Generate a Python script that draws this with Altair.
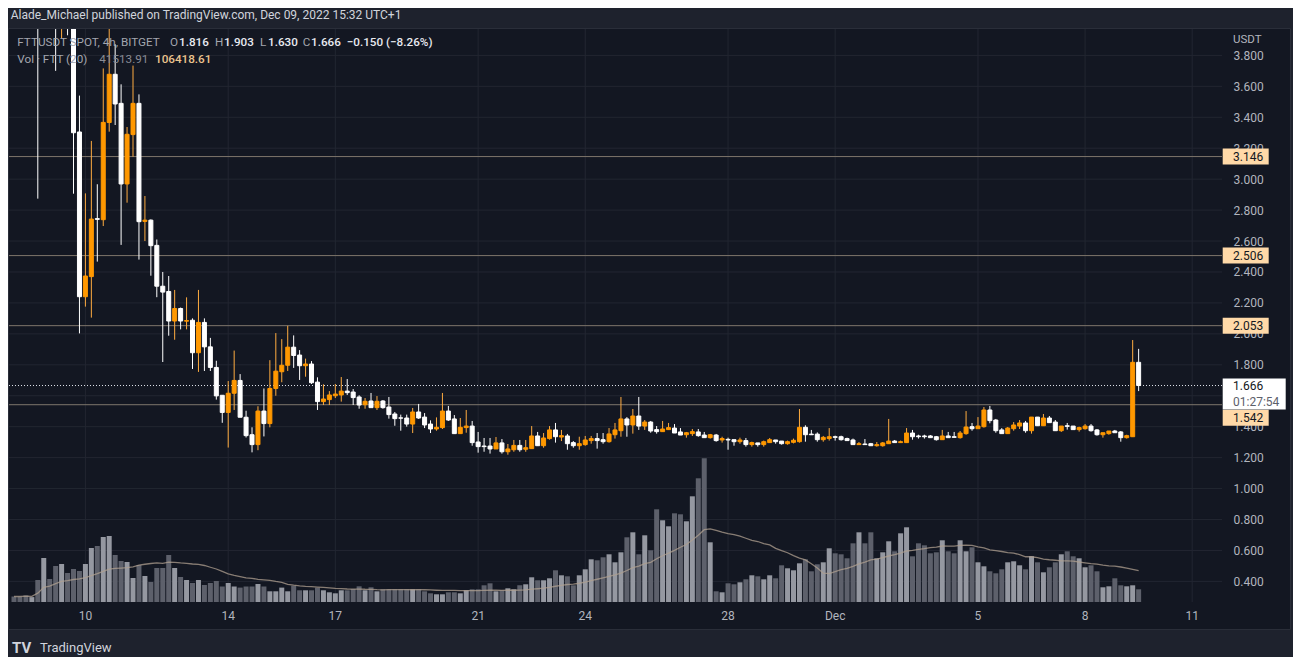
import altair as alt
import pandas as pd

# ---------------- data (4h candles, index 0 = Nov 10 01:00 UTC+1) ----------------
bar_index = list(range(-12, 178))

open_ = [
    5.10, 4.75, 4.45, 4.30, 4.40, 4.15, 4.30, 4.20, 4.05, 4.25,
    4.10, 3.305, 2.240, 2.370, 2.745, 2.738, 3.366, 3.678, 3.490, 2.969,
    3.288, 3.490, 2.727, 2.735, 2.572, 2.308, 2.274, 2.083, 2.164, 2.082,
    2.088, 1.878, 2.074, 1.916, 1.783, 1.603, 1.492, 1.616, 1.699, 1.461,
    1.348, 1.284, 1.501, 1.420, 1.647, 1.755, 1.797, 1.914, 1.863, 1.794,
    1.805, 1.688, 1.562, 1.575, 1.600, 1.605, 1.630, 1.624, 1.592, 1.542,
    1.566, 1.523, 1.566, 1.527, 1.482, 1.457, 1.456, 1.417, 1.495, 1.462,
    1.417, 1.385, 1.394, 1.501, 1.450, 1.355, 1.394, 1.404, 1.301, 1.275,
    1.275, 1.256, 1.295, 1.238, 1.251, 1.279, 1.254, 1.258, 1.340, 1.277,
    1.323, 1.379, 1.333, 1.340, 1.297, 1.277, 1.284, 1.310, 1.323, 1.316,
    1.303, 1.348, 1.374, 1.450, 1.411, 1.469, 1.404, 1.430, 1.381, 1.368,
    1.381, 1.391, 1.366, 1.348, 1.355, 1.366, 1.346, 1.329, 1.346, 1.314,
    1.318, 1.316, 1.303, 1.310, 1.284, 1.295, 1.284, 1.297, 1.314, 1.307,
    1.290, 1.299, 1.303, 1.396, 1.352, 1.352, 1.316, 1.323, 1.335, 1.335,
    1.323, 1.314, 1.284, 1.288, 1.290, 1.277, 1.277, 1.290, 1.307, 1.297,
    1.297, 1.359, 1.340, 1.340, 1.340, 1.335, 1.316, 1.340, 1.335, 1.329,
    1.355, 1.400, 1.387, 1.400, 1.508, 1.443, 1.379, 1.355, 1.387, 1.404,
    1.424, 1.374, 1.462, 1.406, 1.456, 1.430, 1.374, 1.406, 1.404, 1.381,
    1.387, 1.404, 1.379, 1.348, 1.355, 1.372, 1.366, 1.329, 1.335, 1.816,
]
high = [
    5.40, 5.00, 4.70, 4.60, 4.55, 4.50, 4.60, 4.40, 4.40, 4.45,
    4.30, 3.54, 2.908, 3.247, 2.967, 3.716, 4.05, 3.872, 3.613, 3.337,
    3.734, 3.548, 2.891, 2.740, 2.61, 2.40, 2.374, 2.284, 2.17, 2.236,
    2.10, 2.284, 2.10, 1.974, 1.826, 1.603, 1.695, 1.892, 1.74, 1.503,
    1.396, 1.532, 1.647, 1.83, 2.005, 1.966, 2.052, 1.99, 1.895, 1.840,
    1.824, 1.719, 1.674, 1.630, 1.676, 1.721, 1.708, 1.643, 1.603, 1.585,
    1.618, 1.598, 1.572, 1.592, 1.495, 1.478, 1.478, 1.521, 1.547, 1.488,
    1.441, 1.460, 1.618, 1.534, 1.475, 1.456, 1.508, 1.437, 1.366, 1.327,
    1.327, 1.333, 1.320, 1.288, 1.314, 1.314, 1.314, 1.404, 1.366, 1.359,
    1.404, 1.424, 1.379, 1.353, 1.307, 1.335, 1.340, 1.340, 1.359, 1.359,
    1.391, 1.424, 1.592, 1.462, 1.514, 1.592, 1.443, 1.437, 1.404, 1.437,
    1.424, 1.417, 1.391, 1.366, 1.385, 1.385, 1.366, 1.353, 1.353, 1.335,
    1.329, 1.316, 1.329, 1.327, 1.303, 1.295, 1.310, 1.327, 1.314, 1.307,
    1.310, 1.323, 1.514, 1.409, 1.379, 1.363, 1.340, 1.391, 1.342, 1.342,
    1.329, 1.323, 1.301, 1.320, 1.295, 1.301, 1.301, 1.450, 1.314, 1.310,
    1.391, 1.379, 1.348, 1.348, 1.346, 1.340, 1.379, 1.366, 1.366, 1.372,
    1.501, 1.424, 1.462, 1.527, 1.534, 1.450, 1.391, 1.398, 1.430, 1.443,
    1.437, 1.462, 1.462, 1.482, 1.469, 1.443, 1.404, 1.424, 1.404, 1.400,
    1.417, 1.417, 1.385, 1.361, 1.372, 1.379, 1.372, 1.348, 1.960, 1.903,
]
low = [
    4.60, 4.30, 4.10, 4.05, 2.874, 4.02, 4.05, 3.70, 3.91, 3.93,
    2.906, 2.003, 2.176, 2.105, 2.467, 2.697, 3.307, 3.35, 2.575, 2.848,
    3.145, 2.48, 2.60, 2.376, 2.237, 1.818, 1.988, 1.962, 2.029, 2.029,
    1.773, 1.754, 1.76, 1.76, 1.575, 1.425, 1.265, 1.508, 1.461, 1.33,
    1.234, 1.248, 1.337, 1.396, 1.60, 1.687, 1.76, 1.78, 1.702, 1.723,
    1.676, 1.508, 1.540, 1.540, 1.585, 1.562, 1.605, 1.540, 1.516, 1.516,
    1.523, 1.508, 1.516, 1.452, 1.406, 1.374, 1.400, 1.359, 1.450, 1.391,
    1.359, 1.374, 1.385, 1.437, 1.355, 1.355, 1.361, 1.277, 1.232, 1.238,
    1.226, 1.256, 1.226, 1.219, 1.238, 1.238, 1.238, 1.258, 1.277, 1.264,
    1.316, 1.297, 1.307, 1.251, 1.264, 1.251, 1.277, 1.290, 1.258, 1.290,
    1.297, 1.323, 1.335, 1.335, 1.355, 1.379, 1.379, 1.361, 1.355, 1.368,
    1.379, 1.359, 1.346, 1.329, 1.340, 1.335, 1.329, 1.323, 1.303, 1.297,
    1.251, 1.277, 1.290, 1.271, 1.271, 1.271, 1.271, 1.297, 1.290, 1.284,
    1.284, 1.292, 1.297, 1.303, 1.346, 1.303, 1.303, 1.310, 1.310, 1.310,
    1.310, 1.284, 1.284, 1.284, 1.277, 1.271, 1.271, 1.290, 1.297, 1.297,
    1.297, 1.316, 1.323, 1.323, 1.329, 1.310, 1.316, 1.329, 1.331, 1.323,
    1.348, 1.374, 1.387, 1.394, 1.422, 1.361, 1.355, 1.355, 1.374, 1.385,
    1.361, 1.355, 1.406, 1.406, 1.426, 1.374, 1.366, 1.381, 1.381, 1.368,
    1.381, 1.368, 1.342, 1.329, 1.348, 1.361, 1.303, 1.323, 1.335, 1.630,
]
close = [
    4.75, 4.45, 4.30, 4.40, 4.15, 4.30, 4.20, 4.05, 4.25, 4.10,
    3.30, 2.240, 2.374, 2.742, 2.740, 3.367, 3.678, 3.486, 2.969, 3.290,
    3.490, 2.725, 2.735, 2.570, 2.308, 2.270, 2.083, 2.164, 2.083, 2.086,
    1.878, 2.074, 1.916, 1.783, 1.599, 1.492, 1.616, 1.699, 1.461, 1.342,
    1.284, 1.501, 1.420, 1.647, 1.759, 1.797, 1.914, 1.860, 1.794, 1.805,
    1.684, 1.562, 1.579, 1.605, 1.611, 1.630, 1.620, 1.588, 1.540, 1.564,
    1.523, 1.564, 1.523, 1.478, 1.452, 1.455, 1.417, 1.495, 1.456, 1.411,
    1.385, 1.396, 1.501, 1.443, 1.355, 1.396, 1.404, 1.297, 1.271, 1.271,
    1.256, 1.295, 1.238, 1.256, 1.279, 1.251, 1.264, 1.340, 1.277, 1.327,
    1.379, 1.335, 1.342, 1.290, 1.277, 1.290, 1.314, 1.323, 1.310, 1.303,
    1.353, 1.379, 1.450, 1.411, 1.469, 1.404, 1.430, 1.372, 1.368, 1.385,
    1.394, 1.359, 1.346, 1.361, 1.368, 1.342, 1.329, 1.348, 1.310, 1.323,
    1.314, 1.303, 1.314, 1.284, 1.297, 1.284, 1.303, 1.316, 1.303, 1.290,
    1.303, 1.312, 1.396, 1.348, 1.348, 1.316, 1.331, 1.335, 1.331, 1.316,
    1.310, 1.284, 1.290, 1.284, 1.277, 1.284, 1.295, 1.307, 1.297, 1.303,
    1.359, 1.335, 1.335, 1.335, 1.329, 1.316, 1.340, 1.329, 1.331, 1.359,
    1.398, 1.387, 1.404, 1.508, 1.439, 1.374, 1.355, 1.391, 1.411, 1.424,
    1.374, 1.462, 1.406, 1.456, 1.426, 1.374, 1.404, 1.402, 1.381, 1.394,
    1.404, 1.374, 1.348, 1.361, 1.372, 1.361, 1.329, 1.342, 1.816, 1.666,
]
volume_k = [
    18.0, 18.0, 21.6, 16.0, 71.9, 143.9, 75.2, 117.7, 124.3, 94.8,
    107.9, 101.4, 124.3, 176.6, 183.1, 212.6, 215.8, 153.7, 134.1, 130.8,
    78.5, 121.0, 85.0, 65.4, 111.2, 111.2, 153.7, 111.2, 81.8, 71.9,
    62.1, 71.9, 55.6, 62.1, 68.7, 50.7, 62.1, 50.7, 47.1, 50.7,
    50.7, 58.9, 50.7, 35.0, 35.0, 47.1, 35.0, 53.3, 38.3, 38.3,
    38.3, 46.8, 38.3, 31.7, 28.4, 38.3, 38.3, 42.5, 51.3, 38.3,
    48.1, 35.0, 41.5, 41.5, 41.5, 41.5, 41.5, 41.5, 41.5, 35.0,
    28.4, 25.2, 25.2, 31.7, 31.7, 28.4, 38.3, 41.5, 41.5, 54.6,
    61.1, 35.0, 38.3, 44.8, 41.5, 54.6, 57.9, 80.8, 71.0, 71.0,
    77.5, 103.7, 87.3, 84.0, 54.6, 87.3, 106.9, 139.6, 136.4, 146.2,
    156.0, 129.8, 162.5, 211.6, 227.9, 156.0, 218.1, 169.1, 303.1, 267.2,
    247.5, 290.0, 286.8, 263.9, 345.6, 404.5, 469.9, 195.2, 35.0, 31.7,
    61.1, 57.9, 64.4, 74.2, 87.3, 84.0, 74.2, 87.3, 77.5, 120.0,
    110.2, 103.7, 126.5, 139.6, 100.4, 123.3, 129.8, 175.6, 159.2, 156.0,
    142.9, 191.9, 227.9, 191.9, 227.9, 142.9, 162.5, 198.5, 165.8, 224.6,
    244.3, 149.4, 191.9, 185.4, 159.2, 162.5, 201.8, 165.8, 159.2, 201.8,
    165.8, 178.9, 129.8, 116.7, 100.4, 93.8, 106.9, 129.8, 133.1, 120.0,
    106.9, 149.4, 129.8, 97.1, 113.5, 129.8, 156.0, 165.8, 149.4, 142.9,
    113.5, 120.0, 100.4, 48.1, 51.3, 77.5, 54.6, 51.3, 54.6, 41.5,
]

day_tick_index = [0, 24, 42, 66, 84, 108, 126, 150, 168, 186]
day_tick_label = ["10", "14", "17", "21", "24", "28", "Dec", "5", "8", "11"]
price_ticks = [0.4, 0.6, 0.8, 1.0, 1.2, 1.4, 1.6, 1.8, 2.0, 2.2, 2.4, 2.6,
               2.8, 3.0, 3.2, 3.4, 3.6, 3.8]
level_prices = [3.146, 2.506, 2.053]
level_price_low = [1.542]
last_price = [1.666]
countdown = "01:27:54"

df = pd.DataFrame({"idx": bar_index, "open": open_, "high": high, "low": low,
                   "close": close, "vol": volume_k})
df_ticks = pd.DataFrame({"price": price_ticks})
df_days = pd.DataFrame({"idx": day_tick_index, "label": day_tick_label})
df_levels = pd.DataFrame({"price": level_prices})
df_level_low = pd.DataFrame({"price": level_price_low})
df_last = pd.DataFrame({"price": last_price})
one = pd.DataFrame({"a": [0]})

# ---------------- styling ----------------
W, H = 1213, 574
FONT = "Roboto"
BG_OUT = "#1e222d"
BG_PANEL = "#131722"
GRID = "#222631"
TXT = "#b2b5be"
ORANGE = "#ff9800"
WHITE = "#ffffff"
VOL_UP = "#9598a1"
VOL_DN = "#5d606b"
LEVEL = "#7e766b"
PEACH = "#ffd9a8"

X_SCALE = alt.Scale(domain=[-12, 190.17], nice=False, zero=False)
P_SCALE = alt.Scale(domain=[0.2667, 3.9771], nice=False, zero=False)
V_SCALE = alt.Scale(domain=[0, 1877], nice=False, zero=True)

xq = alt.X("idx:Q", scale=X_SCALE, axis=None)


def band(x1, x2, y1, y2, fill=BG_OUT):
    return alt.Chart(one).mark_rect(fill=fill).encode(
        x=alt.value(x1), x2=alt.value(x2), y=alt.value(y1), y2=alt.value(y2))


outer = [
    band(-2, 1285, -21, 0),        # publishing header strip
    band(-2, 1285, 602, 630),      # footer strip
    band(1281.5, 1285, -21, 630),  # right edge strip
]
frame = alt.Chart(one).mark_rect(fill=None, fillOpacity=0, stroke="#2a2e39", strokeWidth=1).encode(
    x=alt.value(-0.5), x2=alt.value(1281.5), y=alt.value(0.5), y2=alt.value(601.5))

hgrid = alt.Chart(df_ticks).mark_rule(color=GRID, strokeWidth=1).encode(
    y=alt.Y("price:Q", scale=P_SCALE,
            axis=alt.Axis(orient="right", values=price_ticks, format=".3f", title=None,
                          domain=False, ticks=False, tickSize=0, grid=False,
                          labelPadding=11, labelColor=TXT, labelFont=FONT,
                          labelFontSize=12, labelOverlap=False)))

vgrid = alt.Chart(df_days).mark_rule(color=GRID, strokeWidth=1).encode(x=xq)

# date labels along the time scale
xlabels = alt.Chart(df_days).mark_text(baseline="middle", align="center", font=FONT,
                                       fontSize=12, color=TXT).encode(
    x=xq, y=alt.value(587.5), text="label:N")

vol_bars = alt.Chart(df).transform_calculate(
    vc="datum.close >= datum.open ? '%s' : '%s'" % (VOL_UP, VOL_DN)
).mark_bar(size=5, clip=True).encode(
    x=xq,
    y=alt.Y("vol:Q", scale=V_SCALE, axis=None),
    color=alt.Color("vc:N", scale=None, legend=None))

ma_line = alt.Chart(df).transform_window(
    ma="mean(vol)", frame=[-19, 0], sort=[alt.SortField("idx")]
).mark_line(color="#b0a090", strokeWidth=1.3, opacity=0.75, clip=True).encode(
    x=xq, y=alt.Y("ma:Q", scale=V_SCALE, axis=None))

vol_layer = alt.layer(vol_bars, ma_line)

py = lambda f: alt.Y(f, scale=P_SCALE, axis=None)

levels = alt.Chart(df_levels).mark_rule(color=LEVEL, strokeWidth=1).encode(y=py("price:Q"))
levels_low = alt.Chart(df_level_low).mark_rule(color=LEVEL, strokeWidth=1).encode(y=py("price:Q"))
last_line = alt.Chart(df_last).mark_rule(color="#e0e3eb", strokeWidth=1, strokeDash=[1, 2]).encode(
    y=py("price:Q"))

cc = "datum.close >= datum.open ? '%s' : '%s'"
wicks = alt.Chart(df).transform_calculate(
    wc=cc % ("#ffac40", WHITE)
).mark_rule(strokeWidth=1, clip=True).encode(
    x=xq, y=py("low:Q"), y2="high:Q", color=alt.Color("wc:N", scale=None, legend=None))

bodies = alt.Chart(df).transform_calculate(
    bc=cc % (ORANGE, WHITE)
).mark_bar(size=4, strokeWidth=1, clip=True).encode(
    x=xq, y=py("open:Q"), y2="close:Q",
    color=alt.Color("bc:N", scale=None, legend=None),
    stroke=alt.Stroke("bc:N", scale=None, legend=None))

# right-hand price labels
lvl_box = alt.Chart(df_levels).mark_rect(fill=PEACH, yOffset=-8, y2Offset=8).encode(
    x=alt.value(1213.7), x2=alt.value(1259.7), y=py("price:Q"), y2="price:Q")
lvl_txt = alt.Chart(df_levels).mark_text(align="left", baseline="middle", font=FONT,
                                         fontSize=12, color="#131722").encode(
    x=alt.value(1224), y=py("price:Q"), text=alt.Text("price:Q", format=".3f"))
low_box = alt.Chart(df_level_low).mark_rect(fill=PEACH, yOffset=5, y2Offset=21).encode(
    x=alt.value(1213.7), x2=alt.value(1259.7), y=py("price:Q"), y2="price:Q")
low_txt = alt.Chart(df_level_low).mark_text(align="left", baseline="middle", font=FONT,
                                            fontSize=12, color="#131722", dy=13).encode(
    x=alt.value(1224), y=py("price:Q"), text=alt.Text("price:Q", format=".3f"))
last_box = alt.Chart(df_last).mark_rect(fill=WHITE, yOffset=-7, y2Offset=24).encode(
    x=alt.value(1213.7), x2=alt.value(1276.7), y=py("price:Q"), y2="price:Q")
last_txt = alt.Chart(df_last).mark_text(align="left", baseline="middle", font=FONT,
                                        fontSize=12, color="#131722").encode(
    x=alt.value(1224), y=py("price:Q"), text=alt.Text("price:Q", format=".3f"))
last_cd = alt.Chart(df_last).mark_text(align="left", baseline="middle", font=FONT,
                                       fontSize=12, color="#5d606b", dy=16,
                                       text=countdown).encode(
    x=alt.value(1224), y=py("price:Q"))

price_layer = alt.layer(levels, levels_low, last_line, wicks, bodies,
                        lvl_box, lvl_txt, low_box, low_txt, last_box, last_txt, last_cd)


def txt(s, x, y, color, size=12, weight="normal", font=FONT):
    return alt.Chart(one).mark_text(text=s, align="left", baseline="middle", color=color,
                                    fontSize=size, fontWeight=weight, font=font).encode(
        x=alt.value(x), y=alt.value(y))


LEG = "#a3a6af"
VAL = "#e8eaf0"
texts = [
    txt("Alade_Michael published on TradingView.com, Dec 09, 2022 15:32 UTC+1", 1.7, -13, "#d1d4dc", 12),
    txt("FTTUSDT SPOT, 4h, BITGET", 8.3, 14.3, LEG, 11.7),
    txt("O", 161, 14.3, LEG, 11.7), txt("1.816", 170, 14.3, VAL, 11.7, 500),
    txt("H", 206, 14.3, LEG, 11.7), txt("1.903", 215, 14.3, VAL, 11.7, 500),
    txt("L", 251, 14.3, LEG, 11.7), txt("1.630", 259, 14.3, VAL, 11.7, 500),
    txt("C", 293.7, 14.3, LEG, 11.7), txt("1.666", 302, 14.3, VAL, 11.7, 500),
    txt("\u22120.150 (\u22128.26%)", 337.7, 14.3, VAL, 11.7, 500),
    txt("Vol \u00b7 FTT (20)", 8.3, 31.3, LEG, 11.7),
    txt("41513.91", 90.3, 31.3, "#8a8d96", 11.7),
    txt("106418.61", 146, 31.3, "#ecc48e", 11.7, 500),
    txt("USDT", 1224, 12, TXT, 11.5),
    txt("TV", 3, 620, "#d1d4dc", 15, "bold"),
    txt("TradingView", 31, 620, "#d1d4dc", 13),
]

chart = alt.layer(*outer, hgrid, vgrid, vol_layer, price_layer, frame, xlabels, *texts).resolve_scale(
    y="independent", color="independent"
).properties(
    width=W, height=H,
    padding={"left": 1, "top": 20, "right": 71, "bottom": 55},
    autosize=alt.AutoSizeParams(type="none"),
    background=BG_PANEL,
).configure_view(stroke=None)

chart.save("out.html", embed_options={"renderer": "svg", "actions": False})
